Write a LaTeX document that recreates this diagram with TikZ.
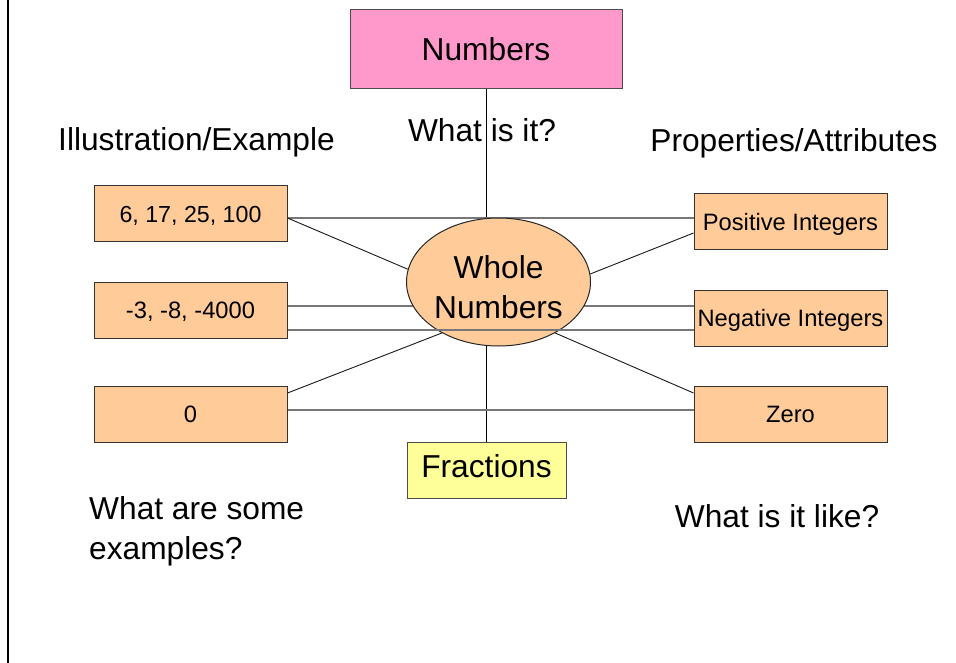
\documentclass[tikz,border=0pt]{standalone}
\usepackage{fontspec}
\setmainfont{Liberation Sans}
\usetikzlibrary{shapes.geometric,backgrounds}
\definecolor{boxorange}{HTML}{FFCC99}
\definecolor{boxpink}{HTML}{FF99CC}
\definecolor{boxyellow}{HTML}{FFFF99}
\definecolor{linegray}{HTML}{777777}
\begin{document}
\begin{tikzpicture}[x=1pt,y=-1pt,
  bigfont/.style={font=\fontsize{31.7}{40}\selectfont},
  smallfont/.style={font=\fontsize{23.7}{28}\selectfont},
  bigcap/.style={text height=22.7pt, text depth=0pt},
  smallcap/.style={text height=17pt, text depth=0pt},
  cbox/.style={draw=black!80, line width=1pt, fill=boxorange, minimum width=193pt,
    minimum height=56pt, inner sep=0pt, smallfont, smallcap},
  numbox/.style={draw=black!70, line width=1pt, fill=boxpink, minimum width=272pt,
    minimum height=79pt, inner sep=0pt, bigfont, bigcap},
  fracbox/.style={draw=black!70, line width=1pt, fill=boxyellow, minimum width=159pt,
    minimum height=56pt, inner sep=0pt, bigfont, bigcap},
  ellnode/.style={ellipse, draw=black!85, line width=1pt, fill=boxorange, minimum width=184pt,
    minimum height=128pt, inner sep=0pt, bigfont, align=center},
  lbl/.style={inner sep=0pt, bigfont, bigcap},
  hline/.style={draw=linegray, line width=1.2pt},
  dline/.style={draw=black!90, line width=0.9pt},
  vline/.style={draw=black, line width=1pt}
]
\useasboundingbox (0,0) rectangle (956,663);
\draw[line width=2pt] (8,0) -- (8,663);

% nodes
\node[numbox] (num) at (486,49.5) {Numbers};
\node[cbox, font=\fontsize{23.2}{27}\selectfont, text height=16.6pt] (b1) at (190.5,214) {6, 17, 25, 100};
\node[cbox] (b2) at (190.5,310) {-3, -8, -4000};
\node[cbox] (b3) at (190.5,414) {0};
\node[cbox] (pi) at (790.5,222) {Positive Integers};
\node[cbox] (ni) at (790.5,318) {Negative Integers};
\node[cbox] (zr) at (790.5,414) {Zero};
\node[ellnode, text height=72.5pt, text depth=0pt] (wn) at (498.5,282) {Whole\\Numbers};
\node[fracbox, text depth=7pt] (fr) at (486.5,470) {Fractions};

% labels
\node[lbl] (ill) at (196.5,139) {Illustration/Example};
\node[lbl] (prop) at (794,140.5) {Properties/Attributes};
\node[lbl] (what) at (482,130) {What is it?};
\node[inner sep=0pt, bigfont, align=left, anchor=north west] (ex) at (89,496) {What are some\\examples?};
\node[lbl] (like) at (777,516.5) {What is it like?};

% connectors behind the nodes
\begin{scope}[on background layer]
\draw[vline] (num.south) -- (num.south |- fr.north);
\draw[hline] ([yshift=-4pt]b1.east) -- ([yshift=4pt]pi.west);
\draw[hline] ([yshift=4pt]b2.east) -- ([yshift=12pt]ni.west);
\draw[hline] ([yshift=4pt]b3.east) -- ([yshift=4pt]zr.west);
\end{scope}

% connectors in front
\draw[hline] ([yshift=-20pt]b2.east) -- ([yshift=-12pt]ni.west);
\draw[dline] ([yshift=-4pt]b1.east) -- (wn.172);
\draw[dline] (wn.5) -- ([yshift=-11pt]pi.west);
\draw[dline] (wn.222) -- ([yshift=21pt]b3.east);
\draw[dline] (wn.318) -- ([yshift=21pt]zr.west);
\end{tikzpicture}
\end{document}
